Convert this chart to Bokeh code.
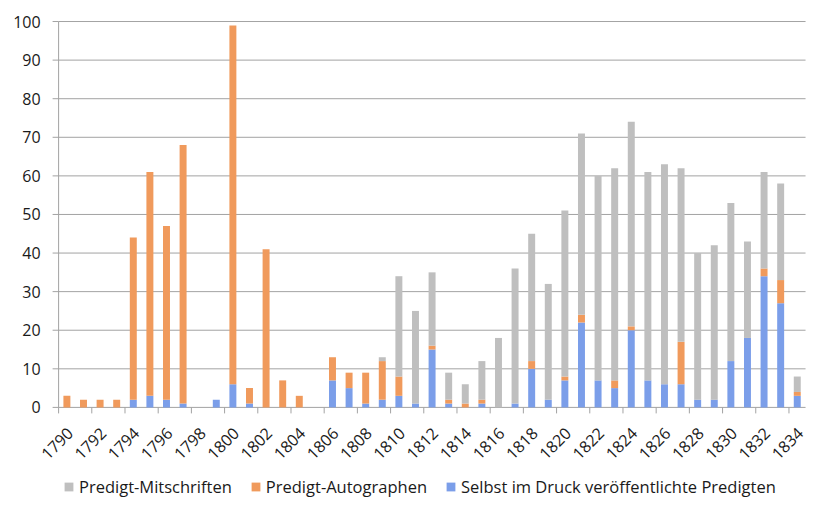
from math import pi
from bokeh.plotting import figure
from bokeh.models import ColumnDataSource, Legend, LegendItem, Range1d
from bokeh.core.properties import value
from bokeh.embed import file_html
from bokeh.resources import INLINE

years = list(range(1790, 1835))
druck = [0, 0, 0, 0, 2, 3, 2, 1, 0, 2, 6, 1, 0, 0, 0, 0, 7, 5, 1, 2, 3, 1, 15, 1, 0, 1, 0, 1, 10, 2,
         7, 22, 7, 5, 20, 7, 6, 6, 2, 2, 12, 18, 34, 27, 3]
autographen = [3, 2, 2, 2, 42, 58, 45, 67, 0, 0, 93, 4, 41, 7, 3, 0, 6, 4, 8, 10, 5, 0, 1, 1, 1, 1, 0, 0, 2, 0,
               1, 2, 0, 2, 1, 0, 0, 11, 0, 0, 0, 0, 2, 6, 1]
mitschriften = [0, 0, 0, 0, 0, 0, 0, 0, 0, 0, 0, 0, 0, 0, 0, 0, 0, 0, 0, 1, 26, 24, 19, 7, 5, 10, 18, 35, 33, 30,
                43, 47, 53, 55, 53, 54, 57, 45, 38, 40, 41, 25, 25, 25, 4]
label_years = list(range(1790, 1835, 2))
y_ticks = list(range(0, 101, 10))
series_names = ["Selbst im Druck veröffentlichte Predigten", "Predigt-Autographen", "Predigt-Mitschriften"]
colors = ["#7b9ee9", "#f09a5c", "#bfbfbf"]

source = ColumnDataSource(dict(year=years, druck=druck, autographen=autographen, mitschriften=mitschriften))

FONT = "Open Sans"
GRID = "#a3a3a3"
TXT = "#1a1a1a"

x_lo, x_hi = years[0] - 0.5, years[-1] + 0.5

# the plotting frame fills the whole figure; axes, labels and legend are drawn inside it
p = figure(width=820, height=508, output_backend="svg", toolbar_location=None,
           x_range=Range1d(1786.0, 1835.4), y_range=Range1d(-26.2, 105.45),
           min_border=0, x_axis_type=None, y_axis_type=None)
p.outline_line_color = None
p.xgrid.visible = False
p.ygrid.visible = False

# horizontal gridlines (0 doubles as the category axis line) and y axis line
p.segment(x0=[x_lo] * len(y_ticks), x1=[x_hi] * len(y_ticks), y0=y_ticks, y1=y_ticks,
          line_color=GRID, line_width=1)
p.segment(x0=[x_lo], x1=[x_lo], y0=[y_ticks[0]], y1=[y_ticks[-1]], line_color=GRID, line_width=1)
# y tick marks and labels
p.ray(x=[x_lo] * len(y_ticks), y=y_ticks, length=6, length_units="screen", angle=pi,
      line_color=GRID, line_width=1)
p.text(x=[x_lo] * len(y_ticks), y=y_ticks, text=[str(t) for t in y_ticks],
       text_align="right", text_baseline="middle", x_offset=-18,
       text_font=value(FONT), text_font_size="16px", text_color=TXT)

rs = p.vbar_stack(["druck", "autographen", "mitschriften"], x="year", width=0.42,
                  source=source, color=colors, line_color=None)

# category axis: tick marks between every second pair of years, rotated year labels
boundaries = [y - 0.5 for y in label_years]
p.ray(x=boundaries, y=[0] * len(boundaries), length=6, length_units="screen", angle=-pi / 2,
      line_color=GRID, line_width=1)
p.text(x=label_years, y=[0] * len(label_years), text=[str(y) for y in label_years],
       angle=pi / 4, text_align="right", text_baseline="middle", x_offset=3, y_offset=23,
       text_font=value(FONT), text_font_size="16px", text_color=TXT)

items = [LegendItem(label=series_names[i], renderers=[rs[i]]) for i in (2, 1, 0)]
legend = Legend(items=items, orientation="horizontal", location=(63, 10),
                padding=0, margin=0, spacing=18, label_standoff=5,
                glyph_width=11, glyph_height=11, label_height=16,
                label_text_font=FONT, label_text_font_size="16.5px", label_text_color=TXT,
                border_line_color=None, background_fill_alpha=0)
p.add_layout(legend, "center")

open("out.html", "w").write(file_html(p, INLINE))
